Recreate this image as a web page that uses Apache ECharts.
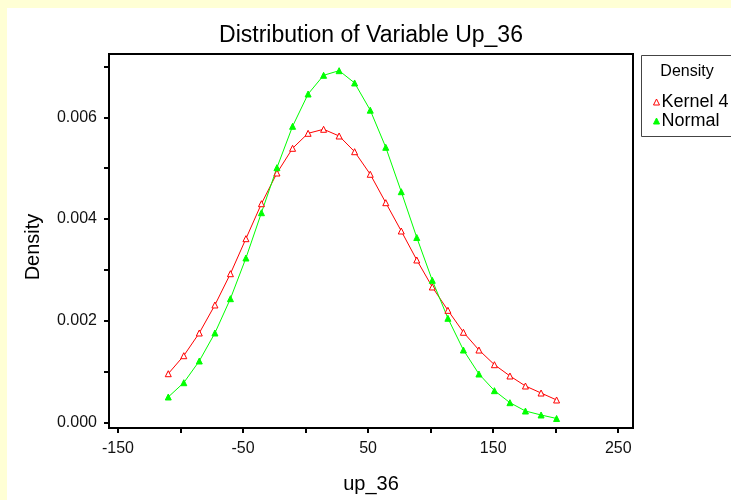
<!DOCTYPE html>
<html>
<head>
<meta charset="utf-8">
<script src="https://cdn.jsdelivr.net/npm/echarts@6/dist/echarts.min.js"></script>
<style>html,body{margin:0;padding:0;background:#FFFFD5;}#c{width:731px;height:500px;}</style>
</head>
<body>
<div id="c"></div>
<script>
// x positions of the evaluation points (up_36)
var xValues = [-109.8,-97.4,-85.0,-72.5,-60.1,-47.7,-35.3,-22.9,-10.4,2.0,14.4,26.8,39.2,51.7,64.1,76.5,88.9,101.3,113.8,126.2,138.6,151.0,163.4,175.8,188.3,200.7];
var kernelValues = [0.000956,0.001310,0.001757,0.002308,0.002923,0.003612,0.004300,0.004904,0.005390,0.005685,0.005764,0.005632,0.005323,0.004879,0.004320,0.003763,0.003193,0.002662,0.002203,0.001771,0.001422,0.001133,0.000911,0.000714,0.000576,0.000439];
var normalValues = [0.000498,0.000779,0.001206,0.001757,0.002432,0.003232,0.004123,0.005009,0.005823,0.006458,0.006826,0.006917,0.006675,0.006140,0.005410,0.004536,0.003635,0.002793,0.002046,0.001422,0.000950,0.000622,0.000386,0.000222,0.000144,0.000075];
var xTickLabels = [-150,-50,50,150,250];
var xTicks = [-150,-100,-50,0,50,100,150,200,250];
var yTickLabels = [0,0.002,0.004,0.006];
var yTicks = [0,0.001,0.002,0.003,0.004,0.005,0.006,0.007];
var seriesNames = ['Kernel 4','Normal'];

function pairs(xs, ys){ return xs.map(function(x,i){return [x, ys[i]];}); }

var chart = echarts.init(document.getElementById('c'), null, {renderer:'canvas'});
var FONT = 'Liberation Sans, Arial, sans-serif';
chart.setOption({
  backgroundColor: '#FFFFD5',
  animation: false,
  grid: {left:109, top:54, right:98, bottom:72, show:true, borderColor:'#000', borderWidth:2, backgroundColor:'#fff', containLabel:false},
  xAxis: {
    type:'value', min:-157.2, max:261.8,
    axisLine:{show:false, onZero:false},
    splitLine:{show:false},
    axisTick:{show:true, inside:false, length:5, customValues:xTicks, lineStyle:{color:'#000', width:2}},
    axisLabel:{customValues:xTickLabels, color:'#111', fontSize:16, fontFamily:FONT, margin:13}
  },
  yAxis: {
    type:'value', min:-0.000112, max:0.007245,
    axisLine:{show:false, onZero:false},
    splitLine:{show:false},
    axisTick:{show:true, inside:false, length:5, customValues:yTicks, lineStyle:{color:'#000', width:2}},
    axisLabel:{customValues:yTickLabels, color:'#111', fontSize:16, fontFamily:FONT, margin:12,
      formatter:function(v){return v.toFixed(3);}}
  },
  graphic: [
    {type:'rect', z:-10, shape:{x:7, y:8, width:724, height:492}, style:{fill:'#fff'}},
    {type:'text', x:371, y:36, style:{text:'Distribution of Variable Up_36', fill:'#000', font:'23px '+FONT, textAlign:'center', textVerticalAlign:'middle'}},
    {type:'text', x:371, y:484, style:{text:'up_36', fill:'#000', font:'20px '+FONT, textAlign:'center', textVerticalAlign:'middle'}},
    {type:'text', x:33, y:247, rotation:Math.PI/2, style:{text:'Density', fill:'#000', font:'20px '+FONT, textAlign:'center', textVerticalAlign:'middle'}},
    {type:'rect', shape:{x:641.5, y:55.5, width:100, height:81}, style:{fill:'#fff', stroke:'#444', lineWidth:1}},
    {type:'text', x:687, y:72, style:{text:'Density', fill:'#000', font:'16px '+FONT, textAlign:'center', textVerticalAlign:'middle'}}
  ],
  legend: {
    orient:'vertical', left:648, top:88, itemGap:1, itemWidth:6, itemHeight:6,
    textStyle:{color:'#000', fontSize:18, fontFamily:FONT, padding:[0,0,0,-3]},
    data:[
      {name:seriesNames[0], icon:'triangle', itemStyle:{color:'#fff', borderColor:'#ff0000', borderWidth:1}},
      {name:seriesNames[1], icon:'triangle', itemStyle:{color:'#00ff00', borderColor:'#00ff00', borderWidth:1}}
    ]
  },
  series: [
    {name:seriesNames[0], type:'line', data:pairs(xValues, kernelValues), symbol:'triangle', symbolSize:6,
      lineStyle:{color:'#ff0000', width:1}, itemStyle:{color:'#fff', borderColor:'#ff0000', borderWidth:1}},
    {name:seriesNames[1], type:'line', data:pairs(xValues, normalValues), symbol:'triangle', symbolSize:6,
      lineStyle:{color:'#00ff00', width:1}, itemStyle:{color:'#00ff00', borderColor:'#00ff00', borderWidth:1}}
  ]
});
</script>
</body>
</html>
